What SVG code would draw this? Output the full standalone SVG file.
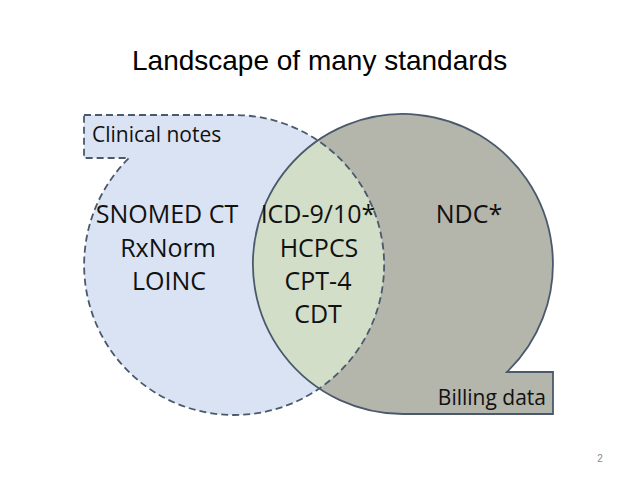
<svg xmlns="http://www.w3.org/2000/svg" width="638" height="479" viewBox="0 0 638 479">
  <style>
    .t { font-family: "Open Sans", "Liberation Sans", sans-serif; fill: #111; text-anchor: middle; }
    .big { font-size: 25px; }
    .small { font-size: 21px; }
    .title { font-family: "Liberation Sans", Arial, sans-serif; font-size: 28px; fill: #000; }
    .edge { fill: none; stroke: #4a5a6c; stroke-width: 1.8; }
  </style>
  <rect width="638" height="479" fill="#ffffff"/>
  <text class="title" x="132" y="70">Landscape of many standards</text>

  <g id="clinical-notes">
    <path d="M84,115 L234,115 A150,150 0 1 1 129,158 L84,158 Z" fill="#dae3f3"/>
  </g>
  <g id="billing-data">
    <path d="M403,414 A150,150 0 1 1 507,372 L553,372 L553,414 Z" fill="#b4b5ab"/>
  </g>
  <g id="overlap">
    <path d="M318.5,141 A150,150 0 0 1 318.5,389 A150,150 0 0 1 318.5,141 Z" fill="#d2dec8"/>
  </g>
  <g id="outlines">
    <path class="edge" d="M403,414 A150,150 0 1 1 507,372 L553,372 L553,414 Z"/>
    <path class="edge" stroke-dasharray="7,4" d="M84,115 L234,115 A150,150 0 1 1 129,158 L84,158 Z"/>
  </g>

  <g id="labels">
    <text class="t small" x="92" y="142" style="text-anchor:start">Clinical notes</text>
    <text class="t small" x="546" y="405" style="text-anchor:end">Billing data</text>
    <text class="t big" x="167" y="223">SNOMED CT</text>
    <text class="t big" x="168" y="257">RxNorm</text>
    <text class="t big" x="169" y="290">LOINC</text>
    <text class="t big" x="318" y="223">ICD-9/10*</text>
    <text class="t big" x="319" y="257">HCPCS</text>
    <text class="t big" x="318" y="290">CPT-4</text>
    <text class="t big" x="318" y="323">CDT</text>
    <text class="t big" x="469" y="223">NDC*</text>
  </g>
  <text x="600" y="462" font-family="Liberation Sans, sans-serif" font-size="10" fill="#888" text-anchor="middle">2</text>
</svg>
